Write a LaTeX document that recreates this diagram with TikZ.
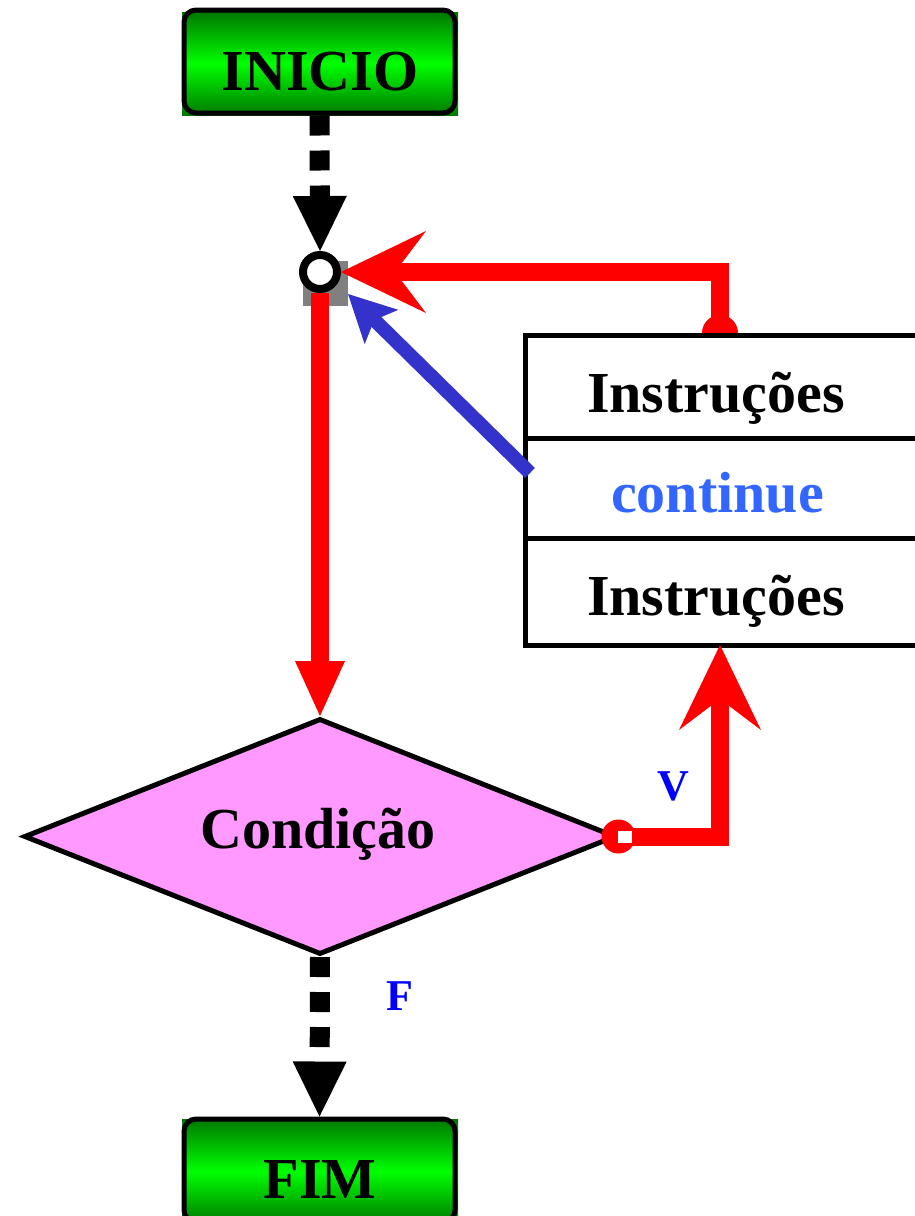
\documentclass[tikz,border=0pt]{standalone}
\usepackage{fontspec}
\setmainfont{Liberation Serif}
\usetikzlibrary{arrows.meta,shapes.geometric}
\definecolor{dkgreen}{HTML}{007800}
\definecolor{ltgreen}{HTML}{00FF00}
\definecolor{pinkv}{HTML}{FF99FF}
\definecolor{contblue}{HTML}{3366FF}
\definecolor{arrblue}{HTML}{3333CC}
\definecolor{lblblue}{HTML}{0000FF}
\definecolor{redl}{HTML}{FF0000}
\begin{document}
\begin{tikzpicture}[x=1pt,y=-1pt,
  bigtxt/.style={font=\fontsize{58}{60}\selectfont\bfseries, inner sep=0pt, anchor=base},
  lbltxt/.style={font=\fontsize{44}{46}\selectfont\bfseries, inner sep=0pt, anchor=base, text=lblblue},
  termbox/.style={draw, line width=5pt, rounded corners=12pt, minimum width=271pt, minimum height=103pt, inner sep=0pt},
  redline/.style={draw=redl, line width=18pt, miter limit=10},
  blackdash/.style={draw=black, line width=20pt, dash pattern=on 20pt off 15pt,
     -{Triangle[length=55pt,width=54pt,line width=0pt]}},
  redstealth/.style={-{Stealth[length=85pt,width=82pt,inset=31pt,line width=0pt]}},
  boxline/.style={line width=5pt}
  ]
\useasboundingbox (0,0) rectangle (914,1216);

% terminal boxes
\shade[top color=dkgreen, bottom color=dkgreen, middle color=ltgreen] (182,12) rectangle (458,115);
\node[termbox] (inicio) at (319.5,61.5) {};
\node[bigtxt] (iniciot) at (320,90) {INICIO};

\shade[top color=dkgreen, bottom color=dkgreen, middle color=ltgreen] (182,1119) rectangle (458,1224);
\node[termbox] (fim) at (319.5,1170.5) {};
\node[bigtxt] (fimt) at (320,1198) {FIM};

% decision diamond
\node[diamond, draw, line width=5pt, fill=pinkv, minimum width=592pt, minimum height=236pt, inner sep=0pt] (cond) at (320,836.5) {};
\node[bigtxt] (condt) at (318,848) {Condição};

% junction
\fill[gray!50!black!100!white, fill=gray] (303,261) rectangle (348,306);
\node[circle, draw, line width=8pt, fill=white, minimum size=34pt, inner sep=0pt] (jn) at (320,272) {};

% loop back from box top
\coordinate (tt) at (720,333);
\fill[redl] (tt) circle[radius=18];
\fill[white] (713,315) rectangle (727,328);
\draw[redline, redstealth] (tt) -- (720,272) -- (jn.east);

% instruction box
\node[draw, boxline, fill=white, minimum width=420pt, minimum height=310pt, inner sep=0pt, anchor=north west] (box) at (523,333) {};
\draw[boxline] (523,438) -- (940,438);
\draw[boxline] (523,538) -- (940,538);
\node[bigtxt] (ins1) at (716,412) {Instruções};
\node[bigtxt, text=contblue] (cont) at (717.5,512) {continue};
\node[bigtxt] (ins2) at (716,615) {Instruções};

% main red down arrow
\draw[redline, -{Triangle[length=55pt,width=50pt,line width=0pt]}] (jn.south) -- (cond.north);

% true branch
\coordinate (bt) at (720,645);
\draw[redline, redstealth] (cond.east) -| (bt);
\fill[redl] (cond.east) circle[radius=17];
\fill[white] (618,831) rectangle (632,843);
\node[lbltxt] (vl) at (673,800) {V};

% dashed arrows
\draw[blackdash] (inicio.south) -- (jn.north);
\draw[blackdash] (cond.south) -- (fim.north);
\node[lbltxt] (fl) at (400,1010) {F};

% continue arrow
\coordinate (cs) at (530,473);
\coordinate (ce) at (348,294);
\draw[draw=arrblue, line width=14pt, -{Stealth[length=47pt,width=48pt,inset=10pt,line width=0pt]}] (cs) -- (ce);
\end{tikzpicture}
\end{document}
